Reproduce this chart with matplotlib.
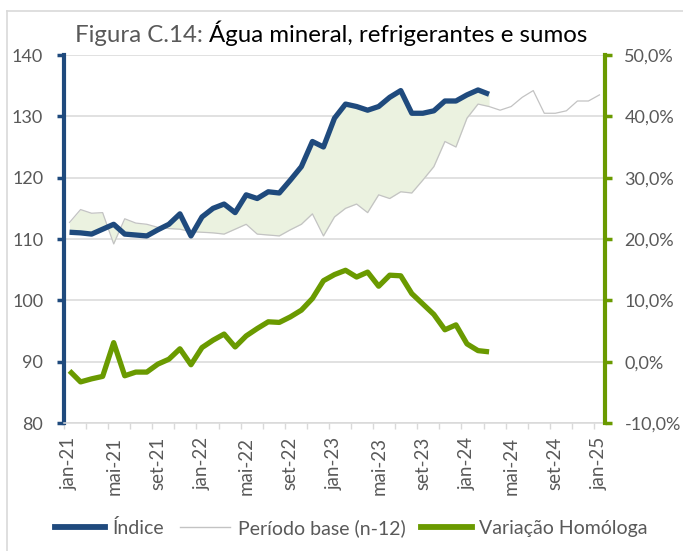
import matplotlib
matplotlib.use('Agg')
import matplotlib.pyplot as plt
from matplotlib.lines import Line2D
import numpy as np

FONT = 'Lato'
plt.rcParams['font.family'] = [FONT, 'DejaVu Sans']

# ---------------- data ----------------
tick_labels = ["jan-21", "mai-21", "set-21", "jan-22", "mai-22", "set-22", "jan-23",
               "mai-23", "set-23", "jan-24", "mai-24", "set-24", "jan-25"]
n_months = 49  # jan-21 .. jan-25

indice = [111.1, 111.0, 110.8, 111.6, 112.4, 110.8, 110.65, 110.5, 111.5, 112.4, 114.1, 110.5,
          113.6, 115.0, 115.7, 114.3, 117.2, 116.6, 117.7, 117.5, 119.6, 121.8, 125.9, 125.0,
          129.7, 132.0, 131.6, 131.0, 131.6, 133.1, 134.2, 130.5, 130.5, 130.9, 132.5, 132.5,
          133.5, 134.3, 133.6]

base = [112.7, 114.8, 114.2, 114.3, 109.2, 113.3, 112.6, 112.4, 111.9, 111.7, 111.6, 111.2,
        111.1, 111.0, 110.8, 111.6, 112.4, 110.8, 110.65, 110.5, 111.5, 112.4, 114.1, 110.5,
        113.6, 115.0, 115.7, 114.3, 117.2, 116.6, 117.7, 117.5, 119.6, 121.8, 125.9, 125.0,
        129.7, 132.0, 131.6, 131.0, 131.6, 133.1, 134.2, 130.5, 130.5, 130.9, 132.5, 132.5,
        133.5]

variacao = [-1.5, -3.3, -2.8, -2.4, 3.1, -2.3, -1.7, -1.7, -0.4, 0.4, 2.1, -0.5,
            2.3, 3.5, 4.5, 2.4, 4.2, 5.4, 6.5, 6.4, 7.3, 8.4, 10.3, 13.2,
            14.2, 14.9, 13.8, 14.6, 12.3, 14.1, 14.0, 11.1, 9.4, 7.7, 5.2, 6.0,
            2.9, 1.8, 1.6]

left_ticks = [80, 90, 100, 110, 120, 130, 140]
right_ticks = [-10, 0, 10, 20, 30, 40, 50]

legend_labels = ["Índice", "Período base (n-12)", "Variação Homóloga"]
title_a = "Figura C.14: "
title_b = "Água mineral, refrigerantes e sumos"

# ---------------- style ----------------
BLUE = '#1F4A7D'
GREEN = '#6A9A00'
GRAY_LINE = '#C3C3C3'
GRID = '#D9D9D9'
FILL = '#EBF2E0'
TXT = '#595959'
FS = 13

W, H = 683, 551
fig = plt.figure(figsize=(W / 100, H / 100), dpi=100)
L, R, T, B = 64, 605, 55, 423
ax = fig.add_axes([L / W, 1 - B / H, (R - L) / W, (B - T) / H])

x_all = np.arange(n_months)
x_idx = np.arange(len(indice))

ax.fill_between(x_idx, indice, base[:len(indice)], color=FILL, lw=0, zorder=1)
ax.plot(x_all, base, color=GRAY_LINE, lw=0.9, zorder=2)
ax.plot(x_idx, indice, color=BLUE, lw=3.8, zorder=3, solid_joinstyle='round', solid_capstyle='butt')

ax.set_xlim(-0.5, n_months - 0.5)
ax.set_ylim(80, 140)
ax.set_yticks(left_ticks)
ax.set_yticklabels([str(v) for v in left_ticks])
ax.yaxis.grid(True, color=GRID, lw=1.1)
ax.set_axisbelow(True)

ax.set_xticks(np.arange(0, n_months, 4))
ax.set_xticklabels(tick_labels, rotation=90)
ax.set_xticks(np.arange(-0.5, n_months, 2), minor=True)
ax.tick_params(axis='x', which='major', length=0, pad=10, labelsize=FS + 0.5, labelcolor=TXT)
ax.tick_params(axis='x', which='minor', length=4, width=1, color=GRID, direction='out')

ax.tick_params(axis='y', which='major', length=5, width=2.5, color=BLUE, direction='out',
               labelsize=FS, labelcolor=TXT, pad=10)

for s in ['top', 'right']:
    ax.spines[s].set_visible(False)
ax.spines['left'].set_color(BLUE)
ax.spines['left'].set_linewidth(3)
ax.spines['bottom'].set_color(GRID)
ax.spines['bottom'].set_linewidth(1.1)

ax2 = ax.twinx()
ax2.plot(x_idx, variacao, color=GREEN, lw=3.8, zorder=4, solid_joinstyle='round', solid_capstyle='butt')
ax2.set_ylim(-10, 50)
ax2.set_yticks(right_ticks)
ax2.set_yticklabels([f"{v:.1f}%".replace('.', ',') for v in right_ticks])
ax2.tick_params(axis='y', which='major', length=5, width=2.5, color=GREEN, direction='out',
                labelsize=FS, labelcolor=TXT, pad=9)
for s in ['top', 'left', 'bottom']:
    ax2.spines[s].set_visible(False)
ax2.spines['right'].set_color(GREEN)
ax2.spines['right'].set_linewidth(3)

# legend
handles = [Line2D([], [], color=BLUE, lw=4.2),
           Line2D([], [], color=GRAY_LINE, lw=1.0),
           Line2D([], [], color=GREEN, lw=4.2)]
fig.legend(handles, legend_labels, loc='center', bbox_to_anchor=(0.514, 1 - 528 / H), ncol=3,
           frameon=False, fontsize=14, labelcolor=TXT, handlelength=2.6, handletextpad=0.38,
           columnspacing=0.8)

# outer border (partially visible)
fig.add_artist(Line2D([7 / W, 7 / W], [0, 1 - 11 / H], transform=fig.transFigure, color=GRID, lw=1.2))
fig.add_artist(Line2D([7 / W, 1], [1 - 11 / H, 1 - 11 / H], transform=fig.transFigure, color=GRID, lw=1.2))

# two-colour title, fitted to target width
target_w = 512
center_x = 331
baseline_y = 1 - 42 / H
fs_t = 17
renderer = fig.canvas.get_renderer()
ta = fig.text(0, baseline_y, title_a, color=TXT, fontsize=fs_t, va='baseline', ha='left')
tb = fig.text(0, baseline_y, title_b, color='black', fontsize=fs_t, va='baseline', ha='left')
wa = ta.get_window_extent(renderer).width
wb = tb.get_window_extent(renderer).width
fs_t = fs_t * target_w / (wa + wb)
ta.set_fontsize(fs_t)
tb.set_fontsize(fs_t)
wa = ta.get_window_extent(renderer).width
wb = tb.get_window_extent(renderer).width
x0 = center_x - (wa + wb) / 2
ta.set_x(x0 / W)
tb.set_x((x0 + wa) / W)

fig.savefig('out.png', dpi=100)
